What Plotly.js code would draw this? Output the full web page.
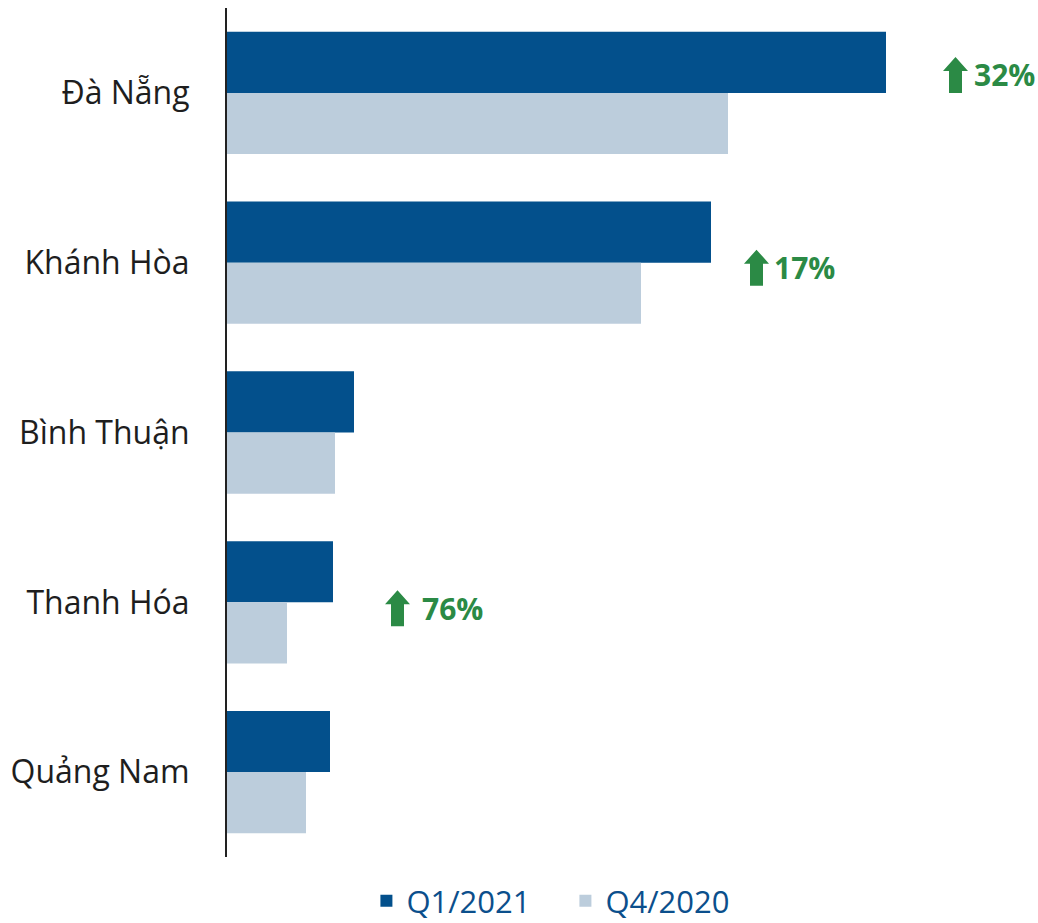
<!DOCTYPE html>
<html>
<head>
<meta charset="utf-8">
<script src="https://cdn.plot.ly/plotly-3.0.1.min.js"></script>
<style>
  body { margin: 0; background: #fff; }
  #chart { width: 1038px; height: 923px; }
</style>
</head>
<body>
<div id="chart"></div>
<script>
const provinces = ["Đà Nẵng", "Khánh Hòa", "Bình Thuận", "Thanh Hóa", "Quảng Nam"];
const q1_2021 = [659, 484, 127, 106, 103];
const q4_2020 = [501, 414, 108, 60, 79];

// growth notes: province index, label, arrow x, text x, vertical offset (px, up)
const noteIdx = [0, 1, 3];
const noteText = ["32%", "17%", "76%"];
const noteArrowX = [716, 517, 158];
const noteTextX = [745, 545, 193];
const noteShift = [18, -5, -6];

const green = "#2b8a45";

const data = [
  {
    name: "Q1/2021",
    type: "bar",
    orientation: "h",
    y: provinces,
    x: q1_2021,
    marker: { color: "#03508c" },
    hoverinfo: "none",
  },
  {
    name: "Q4/2020",
    type: "bar",
    orientation: "h",
    y: provinces,
    x: q4_2020,
    marker: { color: "#bccddc" },
    hoverinfo: "none",
  },
];

// block arrow path, pixels relative to anchor, positive is up
const arrowPath = function (dy) {
  const p = [
    [6, -18], [19, -18], [19, 4], [25, 4], [12.5, 18], [0, 4], [6, 4],
  ];
  return "M" + p.map(function (q) { return q[0] + "," + (q[1] + dy); }).join(" L") + " Z";
};

const shapes = noteIdx.map(function (idx, i) {
  return {
    type: "path",
    xref: "x",
    yref: "y",
    xsizemode: "pixel",
    ysizemode: "pixel",
    xanchor: noteArrowX[i],
    yanchor: idx,
    path: arrowPath(noteShift[i]),
    fillcolor: green,
    line: { width: 0 },
  };
});

const annotations = noteIdx.map(function (idx, i) {
  return {
    x: noteTextX[i],
    y: provinces[idx],
    xref: "x",
    yref: "y",
    xanchor: "left",
    yanchor: "middle",
    yshift: noteShift[i],
    showarrow: false,
    text: "<b>" + noteText[i] + "</b>",
    font: { family: "Open Sans, sans-serif", size: 30, color: green },
  };
});

const layout = {
  width: 1038,
  height: 923,
  margin: { l: 227, r: 0, t: 8, b: 66 },
  paper_bgcolor: "#fff",
  plot_bgcolor: "#fff",
  barmode: "group",
  bargap: 0.28,
  bargroupgap: 0,
  showlegend: true,
  legend: {
    orientation: "h",
    xref: "container",
    yref: "container",
    x: 0.353,
    xanchor: "left",
    y: 0.053,
    yanchor: "top",
    font: { family: "Open Sans, sans-serif", size: 31, color: "#0b4f8c" },
    itemwidth: 30,
    entrywidth: 154,
    tracegroupgap: 0,
  },
  xaxis: {
    range: [0, 811],
    showgrid: false,
    zeroline: false,
    showticklabels: false,
    ticks: "",
    showline: false,
  },
  yaxis: {
    autorange: "reversed",
    showline: true,
    linecolor: "#222",
    linewidth: 2,
    ticks: "",
    ticklabelstandoff: 29,
    tickfont: { family: "Open Sans, sans-serif", size: 32, color: "#1e1e1e" },
  },
  shapes: shapes,
  annotations: annotations,
};

Plotly.newPlot("chart", data, layout, { displayModeBar: false });
</script>
</body>
</html>
